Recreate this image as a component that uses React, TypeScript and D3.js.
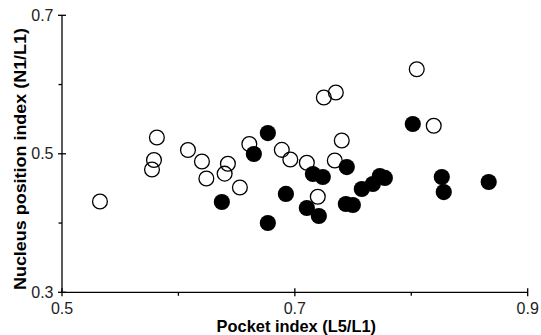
import React from "react";
import * as d3 from "d3";

// Open circles
const openX = [0.5326, 0.5815, 0.579, 0.5773, 0.6082, 0.6202, 0.624, 0.6425, 0.6397, 0.6528, 0.6609, 0.6888, 0.6961, 0.7103, 0.7197, 0.7249, 0.7352, 0.7403, 0.7343, 0.8047, 0.8193];
const openY = [0.4311, 0.5235, 0.491, 0.4773, 0.5055, 0.4889, 0.4643, 0.4857, 0.4713, 0.4513, 0.5142, 0.5057, 0.4918, 0.4871, 0.438, 0.5813, 0.5885, 0.5192, 0.4903, 0.622, 0.5406];

// Filled circles
const filledX = [0.6373, 0.6648, 0.6768, 0.6768, 0.6923, 0.7103, 0.7206, 0.7155, 0.724, 0.7446, 0.7438, 0.7498, 0.7575, 0.767, 0.773, 0.7773, 0.8013, 0.8262, 0.8279, 0.8665];
const filledY = [0.4304, 0.4997, 0.53, 0.4001, 0.442, 0.4217, 0.4102, 0.4708, 0.4665, 0.4809, 0.4275, 0.4261, 0.4492, 0.4564, 0.4679, 0.4651, 0.543, 0.4665, 0.4448, 0.4593];

const xMajor = [0.5, 0.7, 0.9];
const xMinor = [0.6, 0.8];
const yMajor = [0.3, 0.5, 0.7];
const yMinor = [0.4, 0.6];
const xLabel = "Pocket index (L5/L1)";
const yLabel = "Nucleus position index (N1/L1)";

const W = 541;
const H = 335;

export default function App() {
  const x = d3.scaleLinear().domain([0.5, 0.9]).range([62, 527.7]);
  const y = d3.scaleLinear().domain([0.3, 0.7]).range([292.3, 15.3]);
  const fmt = d3.format(".1f");
  const font = "'Liberation Sans', Arial, Helvetica, sans-serif";
  const ax = x(0.5);
  const ay = y(0.3);
  const sw = 1.3;

  return (
    <svg
      width={W}
      height={H}
      style={{ position: "absolute", left: 0, top: 0, background: "#fff" }}
      fontFamily={font}
    >
      <rect x={0} y={0} width={W} height={H} fill="#fff" />
      {/* axes */}
      <line x1={ax} x2={x(0.9)} y1={ay} y2={ay} stroke="#000" strokeWidth={sw} />
      <line x1={ax} x2={ax} y1={y(0.7)} y2={ay} stroke="#000" strokeWidth={sw} />
      {xMajor.map((t) => (
        <g key={"xm" + t}>
          <line x1={x(t)} x2={x(t)} y1={ay - 4} y2={ay + 4} stroke="#000" strokeWidth={sw} />
          <text x={x(t)} y={313.5} textAnchor="middle" fontSize={16} fill="#222">
            {fmt(t)}
          </text>
        </g>
      ))}
      {xMinor.map((t) => (
        <line key={"xn" + t} x1={x(t)} x2={x(t)} y1={ay} y2={ay + 3.5} stroke="#000" strokeWidth={sw} />
      ))}
      {yMajor.map((t) => (
        <g key={"ym" + t}>
          <line x1={ax - 4} x2={ax + 4} y1={y(t)} y2={y(t)} stroke="#000" strokeWidth={sw} />
          <text x={53.5} y={y(t) + 5.5} textAnchor="end" fontSize={16} fill="#222">
            {fmt(t)}
          </text>
        </g>
      ))}
      {yMinor.map((t) => (
        <line key={"yn" + t} x1={ax - 3.5} x2={ax} y1={y(t)} y2={y(t)} stroke="#000" strokeWidth={sw} />
      ))}
      {/* titles */}
      <text x={296.3} y={332} textAnchor="middle" fontSize={16.4} fontWeight="bold" fill="#000">
        {xLabel}
      </text>
      <text
        transform={`translate(26,159) rotate(-90)`}
        textAnchor="middle"
        fontSize={17}
        fontWeight="bold"
        fill="#000"
        textLength={262}
        lengthAdjust="spacingAndGlyphs"
      >
        {yLabel}
      </text>
      {/* points */}
      {openX.map((v, i) => (
        <circle key={"o" + i} cx={x(v)} cy={y(openY[i])} r={7.4} fill="none" stroke="#000" strokeWidth={1.3} />
      ))}
      {filledX.map((v, i) => (
        <circle key={"f" + i} cx={x(v)} cy={y(filledY[i])} r={8.1} fill="#000" />
      ))}
    </svg>
  );
}
